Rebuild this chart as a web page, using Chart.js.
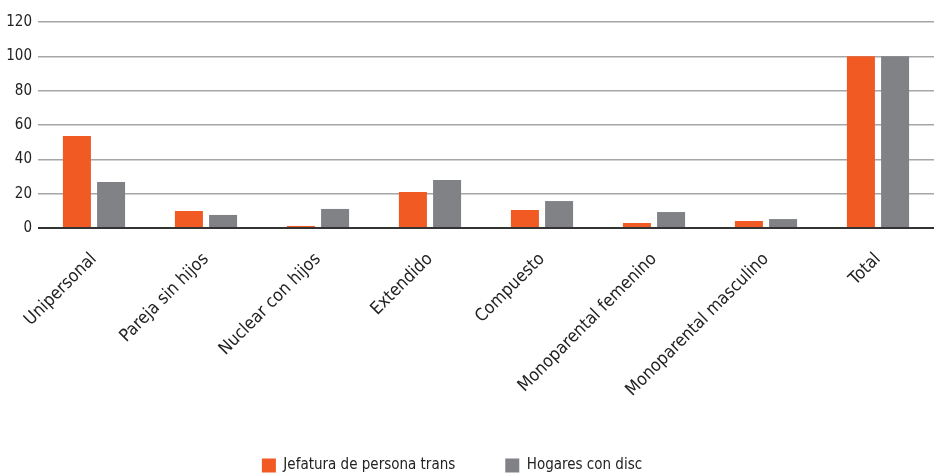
<!DOCTYPE html>
<html>
<head>
<meta charset="utf-8">
<script src="https://cdn.jsdelivr.net/npm/chart.js@4/dist/chart.umd.min.js"></script>
<style>
  html, body { margin: 0; padding: 0; background: #fff; }
  #wrap { width: 934px; height: 474px; }
</style>
</head>
<body>
<div id="wrap"><canvas id="grafico"></canvas></div>
<script>
// categorias del eje x
const categorias = ['Unipersonal', 'Pareja sin hijos', 'Nuclear con hijos', 'Extendido',
  'Compuesto', 'Monoparental femenino', 'Monoparental masculino', 'Total'];

// valores
const jefaturaTrans = [53.6, 9.9, 1.2, 21.0, 10.5, 2.9, 4.1, 100];
const hogaresDisc = [26.8, 7.6, 11.1, 28.0, 15.7, 9.3, 5.2, 100];

const nombresSeries = ['Jefatura de persona trans', 'Hogares con disc'];
const ticksY = [0, 20, 40, 60, 80, 100, 120];

const fuente = "'DejaVu Sans Condensed', 'Roboto', sans-serif";

const datos = {
  labels: categorias,
  datasets: [{
    label: nombresSeries[0],
    data: jefaturaTrans,
    backgroundColor: '#f15a22',
    categoryPercentage: 0.61,
    barPercentage: 0.82
  }, {
    label: nombresSeries[1],
    data: hogaresDisc,
    backgroundColor: '#818285',
    categoryPercentage: 0.61,
    barPercentage: 0.82
  }]
};

// ajuste de la leyenda: menos alto y un poco corrida a la izquierda
const ajusteLeyenda = {
  id: 'ajusteLeyenda',
  afterInit(chart) {
    const leyenda = chart.legend;
    const fitOriginal = leyenda.fit;
    leyenda.fit = function () {
      fitOriginal.call(this);
      this.height = 66;
      this.lineWidths[0] += 30;
    };
  }
};

const config = {
  type: 'bar',
  data: datos,
  options: {
    responsive: false,
    animation: false,
    layout: { padding: { top: 22, right: 0, left: 0, bottom: 0 } },
    plugins: {
      tooltip: { enabled: false },
      legend: {
        position: 'bottom',
        labels: {
          boxWidth: 14,
          boxHeight: 14,
          padding: 50,
          color: '#222',
          font: { family: fuente, size: 15 }
        }
      }
    },
    scales: {
      x: {
        grid: { display: false },
        border: { display: false },
        ticks: {
          color: '#222',
          minRotation: 45,
          maxRotation: 45,
          padding: 13,
          font: { family: fuente, size: 17.5 }
        },
        afterFit: function (escala) {
          escala.height = 180;
        }
      },
      y: {
        min: 0,
        max: 120,
        afterBuildTicks: function (escala) {
          escala.ticks = ticksY.map(v => ({ value: v }));
        },
        afterFit: function (escala) {
          escala.width = 38;
        },
        border: { display: false },
        grid: {
          color: ctx => ctx.tick.value === 0 ? '#333' : '#a6a6a6',
          lineWidth: ctx => ctx.tick.value === 0 ? 2 : 1.5,
          drawTicks: false
        },
        ticks: {
          color: '#222',
          padding: 6,
          font: { family: fuente, size: 15 }
        }
      }
    }
  },
  plugins: [ajusteLeyenda]
};

const canvas = document.getElementById('grafico');
canvas.width = 934;
canvas.height = 474;
new Chart(canvas, config);
</script>
</body>
</html>
